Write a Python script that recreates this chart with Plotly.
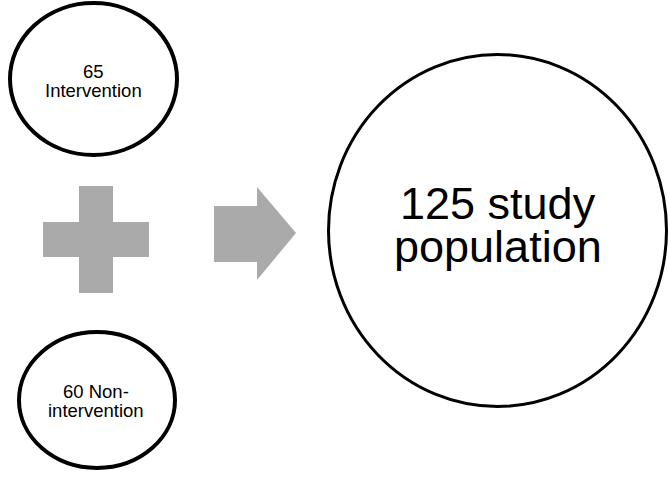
import plotly.graph_objects as go

# Data
groups = ["Intervention", "Non-intervention"]
counts = [65, 60]
total = sum(counts)
total_label = "study population"

W, H = 669, 477
FONT = "Liberation Sans, Arial, sans-serif"
GRAY = "#aaaaaa"

fig = go.Figure()
fig.add_trace(go.Scatter(x=[0, W], y=[0, H], mode="markers", marker=dict(opacity=0), hoverinfo="skip", showlegend=False))

shapes = []
# Group circles
shapes.append(dict(type="circle", xref="x", yref="y", x0=10, x1=177, y0=3, y1=155,
                   line=dict(color="black", width=4), fillcolor="white"))
shapes.append(dict(type="circle", xref="x", yref="y", x0=19, x1=175, y0=332, y1=468,
                   line=dict(color="black", width=4), fillcolor="white"))
# Total circle
shapes.append(dict(type="circle", xref="x", yref="y", x0=328.5, x1=666.5, y0=54.5, y1=406.5,
                   line=dict(color="black", width=3), fillcolor="white"))
# Plus sign
plus = "M 79 186 L 113 186 L 113 222 L 149 222 L 149 257 L 113 257 L 113 293 L 79 293 L 79 257 L 43 257 L 43 222 L 79 222 Z"
shapes.append(dict(type="path", xref="x", yref="y", path=plus, fillcolor=GRAY, line=dict(width=0)))
# Arrow
arrow = "M 214 206 L 257 206 L 257 187 L 296 233 L 257 280 L 257 262 L 214 262 Z"
shapes.append(dict(type="path", xref="x", yref="y", path=arrow, fillcolor=GRAY, line=dict(width=0)))

annotations = []
def txt(x, y, s, size):
    annotations.append(dict(x=x, y=y, xref="x", yref="y", text=s, showarrow=False,
                            xanchor="center", yanchor="middle",
                            font=dict(family=FONT, size=size, color="black")))

small = 18.5
txt(93.5, 71, f"{counts[0]}", small)
txt(93.5, 90, groups[0], small)
first, rest = groups[1].split("-", 1)
txt(95.5, 391.5, f"{counts[1]} {first}-", small)
txt(95.5, 410, rest, small)
w1, w2 = total_label.split(" ", 1)
txt(498, 203, f"{total} {w1}", 45)
txt(498, 246, w2, 45)

fig.update_layout(
    width=W, height=H,
    margin=dict(l=0, r=0, t=0, b=0),
    paper_bgcolor="white", plot_bgcolor="white",
    xaxis=dict(range=[0, W], visible=False, fixedrange=True),
    yaxis=dict(range=[H, 0], visible=False, fixedrange=True),
    shapes=shapes, annotations=annotations, showlegend=False,
)
fig.write_html("out.html", config={"displayModeBar": False},
               post_script="document.body.style.margin='0';document.body.style.padding='0';")
